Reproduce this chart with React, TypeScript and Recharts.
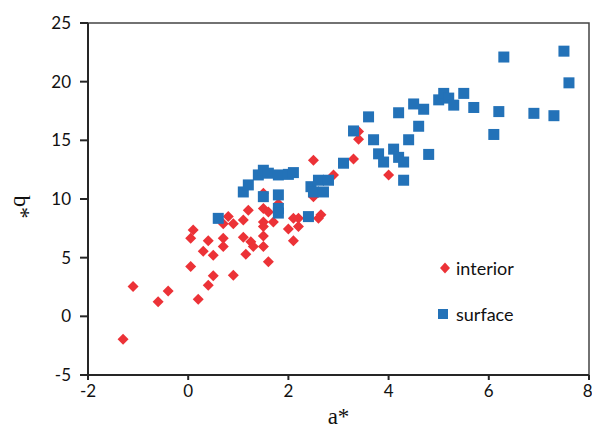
import {
  ScatterChart,
  Scatter,
  XAxis,
  YAxis,
  ReferenceArea,
  Legend,
} from 'recharts';

// interior residues (red diamonds)
const interiorA = [
  -1.3, -1.1, -0.6, -0.4, 0.2, 0.4, 0.5, 0.05, 0.9, 0.05, 0.1, 0.4, 0.3, 0.5, 0.7, 0.7, 0.7, 0.8, 0.9,
  1.1, 1.2, 1.1, 1.25, 1.3, 1.15, 1.5, 1.5, 1.6, 1.5, 1.6, 1.5, 1.5, 1.7, 1.5, 1.8, 2.0, 2.1, 2.1, 2.2,
  2.2, 2.5, 2.5, 2.65, 2.6, 2.9, 3.3, 3.4, 3.4, 4.0,
];
const interiorB = [
  -1.95, 2.55, 1.25, 2.15, 1.45, 2.65, 3.45, 4.25, 3.5, 6.65, 7.35, 6.45, 5.55, 5.2, 7.9, 6.65, 5.95, 8.5, 7.9,
  8.2, 9.05, 6.75, 6.35, 5.95, 5.3, 6.85, 5.95, 4.65, 9.2, 8.9, 8.05, 7.65, 8.05, 10.5, 9.6, 7.45, 6.45, 8.35, 8.35,
  7.65, 13.3, 10.2, 8.65, 8.35, 12.05, 13.4, 15.75, 15.1, 12.05,
];

// surface residues (blue squares)
const surfaceA = [
  0.6, 1.1, 1.2, 1.4, 1.5, 1.6, 1.8, 2.0, 2.1, 1.5, 1.8, 1.8, 1.8, 2.4, 2.45, 2.6, 2.8, 2.5, 2.7, 3.1,
  3.3, 3.6, 3.7, 3.8, 3.9, 4.1, 4.2, 4.3, 4.3, 4.2, 4.4, 4.5, 4.7, 4.6, 4.8, 5.0, 5.1, 5.2, 5.3, 5.5,
  5.7, 6.3, 6.2, 6.1, 6.9, 7.3, 7.5, 7.6,
];
const surfaceB = [
  8.35, 10.6, 11.2, 12.05, 12.45, 12.2, 12.05, 12.1, 12.25, 10.2, 10.35, 9.2, 8.8, 8.5, 11.05, 11.6, 11.6, 10.6, 10.6, 13.05,
  15.8, 17.0, 15.05, 13.85, 13.15, 14.25, 13.55, 13.15, 11.6, 17.35, 15.05, 18.1, 17.65, 16.2, 13.8, 18.45, 19.0, 18.6, 18.0, 19.0,
  17.8, 22.1, 17.45, 15.5, 17.3, 17.1, 22.6, 19.9,
];

const xTicks = [-2, 0, 2, 4, 6, 8];
const yTicks = [-5, 0, 5, 10, 15, 20, 25];

const RED = '#EC3237';
const BLUE = '#2372B8';
const AXIS = '#262626';
const FONT = 'Lato, "Open Sans", sans-serif';
const SERIF = '"Liberation Serif", "Times New Roman", serif';

const interior = interiorA.map((a, i) => ({ a, b: interiorB[i] }));
const surface = surfaceA.map((a, i) => ({ a, b: surfaceB[i] }));

const Diamond = ({ cx, cy }: any) => (
  <path d={`M${cx},${cy - 5.5}L${cx + 5.5},${cy}L${cx},${cy + 5.5}L${cx - 5.5},${cy}Z`} fill={RED} />
);

const Square = ({ cx, cy }: any) => <rect x={cx - 5.5} y={cy - 5.5} width={11} height={11} fill={BLUE} />;

const YLabel = () => (
  <text
    x={21}
    y={207}
    transform="rotate(90, 21, 207)"
    textAnchor="middle"
    dominantBaseline="central"
    fontFamily={SERIF}
    fontSize={23}
    fill="#111"
  >
    b*
  </text>
);

const LegendBox = () => (
  <div style={{ fontFamily: FONT, fontSize: 18, color: '#111' }}>
    <div style={{ display: 'flex', alignItems: 'center', height: 22 }}>
      <svg width={20} height={14}>
        <path d="M9,1.5L14,7L9,12.5L4,7Z" fill={RED} />
      </svg>
      <span>interior</span>
    </div>
    <div style={{ display: 'flex', alignItems: 'center', height: 22, marginTop: 24 }}>
      <svg width={20} height={14}>
        <rect x={2} y={2} width={10} height={10} fill={BLUE} />
      </svg>
      <span>surface</span>
    </div>
  </div>
);

export default function App() {
  return (
    <div style={{ position: 'absolute', left: 0, top: 0, width: 592, height: 430, background: '#fff' }}>
      <ScatterChart width={592} height={430} margin={{ top: 23, right: 3, left: 28, bottom: 20 }}>
        <ReferenceArea x1={-2} x2={8} y1={-5} y2={25} fill="none" stroke="#444" strokeWidth={1.5} fillOpacity={0} />
        <XAxis
          type="number"
          dataKey="a"
          domain={[-2, 8]}
          ticks={xTicks}
          height={35}
          tickSize={5}
          tickMargin={5}
          stroke={AXIS}
          strokeWidth={2}
          tick={{ fontFamily: FONT, fontSize: 17, fill: '#111' }}
          label={{
            value: 'a*',
            position: 'insideBottom',
            offset: -14,
            fontFamily: SERIF,
            fontSize: 23,
            fill: '#111',
          }}
        />
        <YAxis
          type="number"
          dataKey="b"
          domain={[-5, 25]}
          ticks={yTicks}
          width={60}
          tickSize={8}
          tickMargin={9}
          stroke={AXIS}
          strokeWidth={2}
          tick={{ fontFamily: FONT, fontSize: 17, fill: '#111' }}
          label={<YLabel />}
        />
        <Legend
          layout="vertical"
          align="center"
          verticalAlign="middle"
          wrapperStyle={{ left: 436, top: 257, width: 130 }}
          content={<LegendBox />}
        />
        <Scatter name="interior" data={interior} shape={Diamond} isAnimationActive={false} />
        <Scatter name="surface" data={surface} shape={Square} isAnimationActive={false} />
      </ScatterChart>
    </div>
  );
}
